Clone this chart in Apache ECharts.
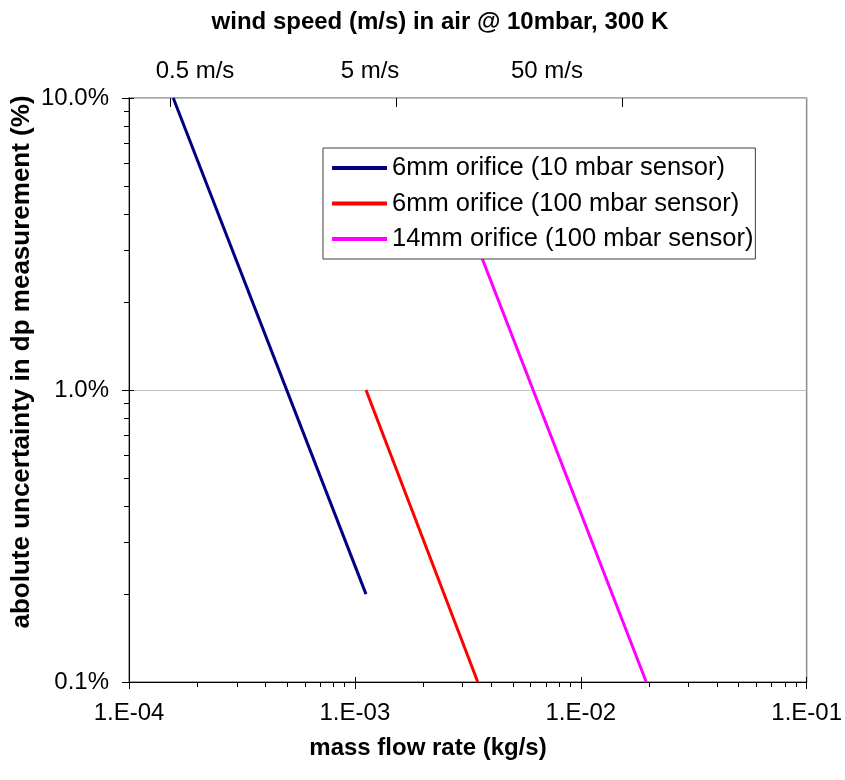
<!DOCTYPE html>
<html><head><meta charset="utf-8">
<script src="https://cdn.jsdelivr.net/npm/echarts@6/dist/echarts.min.js"></script>
<style>html,body{margin:0;padding:0;background:#fff}#c{width:845px;height:780px}</style>
</head><body><div id="c"></div>
<script>
// ---- data ----
const seriesNames = ['6mm orifice (10 mbar sensor)', '6mm orifice (100 mbar sensor)', '14mm orifice (100 mbar sensor)'];
const flow6mm10 = [1.57e-4, 1.12e-3];
const unc6mm10 = [10.0, 0.2];
const flow6mm100 = [1.12e-3, 3.5e-3];
const unc6mm100 = [1.0, 0.1];
const flow14mm100 = [3.55e-3, 1.95e-2];
const unc14mm100 = [3.0, 0.1];
const xTickLabels = ['1.E-04', '1.E-03', '1.E-02', '1.E-01'];
const yTickLabels = ['0.1%', '1.0%', '10.0%'];
const windLabels = ['0.5 m/s', '5 m/s', '50 m/s'];
const windTickFlow = [1.52e-4, 1.52e-3, 1.52e-2];

// ---- helpers ----
const FONT = '"Liberation Sans", Arial, sans-serif';
function minorVals(a, b) { const o = []; for (let d = a; d < b; d++) for (let m = 2; m <= 9; m++) o.push(d + Math.log10(m)); return o; }
function majorVals(a, b) { const o = []; for (let d = a; d <= b; d++) o.push(d); return o; }
function pairs(xs, ys) { return xs.map((x, i) => [x, ys[i]]); }
const hidden = { axisLine: { show: false, onZero: false }, axisLabel: { show: false }, splitLine: { show: false } };

const chart = echarts.init(document.getElementById('c'), null, { renderer: 'canvas' });
chart.setOption({
  backgroundColor: '#fff',
  animation: false,
  textStyle: { fontFamily: FONT },
  grid: { left: 129, right: 37, top: 98, bottom: 98, show: true, borderColor: '#8c8c8c', borderWidth: 1.5, backgroundColor: 'transparent' },
  xAxis: [
    { type: 'log', logBase: 10, min: 1e-4, max: 1e-1, position: 'bottom',
      axisLine: { show: true, onZero: false, lineStyle: { color: '#000', width: 1 } },
      axisTick: { show: true, length: 7, lineStyle: { color: '#000' } },
      axisLabel: { show: true, showMinLabel: true, showMaxLabel: true, margin: 19, fontSize: 24, color: '#000', fontFamily: FONT,
        formatter: v => xTickLabels[Math.round(Math.log10(v)) + 4] },
      splitLine: { show: false } },
    Object.assign({ type: 'value', min: -4, max: -1, position: 'bottom',
      axisTick: { show: true, customValues: minorVals(-4, -1), length: 5, lineStyle: { color: '#000' } } }, hidden),
    Object.assign({ type: 'value', min: -4, max: -1, position: 'bottom',
      axisTick: { show: true, inside: true, customValues: majorVals(-4, -1), length: 5, lineStyle: { color: '#000' } } }, hidden),
    Object.assign({ type: 'value', min: -4, max: -1, position: 'top',
      axisTick: { show: true, inside: true, customValues: windTickFlow.map(v => Math.log10(v)), length: 9, lineStyle: { color: '#000' } } }, hidden)
  ],
  yAxis: [
    { type: 'log', logBase: 10, min: 0.1, max: 10, position: 'left',
      axisLine: { show: true, onZero: false, lineStyle: { color: '#000', width: 1 } },
      axisTick: { show: true, length: 7, lineStyle: { color: '#000' } },
      axisLabel: { show: true, showMinLabel: true, showMaxLabel: true, margin: 20, fontSize: 24, color: '#000', fontFamily: FONT,
        formatter: v => yTickLabels[Math.round(Math.log10(v)) + 1] },
      splitLine: { show: true, lineStyle: { color: '#c0c0c0', width: 1 } } },
    Object.assign({ type: 'value', min: -1, max: 1, position: 'left',
      axisTick: { show: true, customValues: minorVals(-1, 1), length: 5, lineStyle: { color: '#000' } } }, hidden),
    Object.assign({ type: 'value', min: -1, max: 1, position: 'left',
      axisTick: { show: true, inside: true, customValues: majorVals(-1, 1), length: 5, lineStyle: { color: '#000' } } }, hidden)
  ],
  legend: {
    orient: 'vertical', left: 323, top: 148, z: 10,
    backgroundColor: '#fff', borderColor: '#404040', borderWidth: 1,
    padding: [7, 2, 7, 9], itemWidth: 55, itemHeight: 4, itemGap: 9.5, icon: 'rect',
    textStyle: { fontSize: 25.5, color: '#000', fontFamily: FONT },
    data: seriesNames
  },
  series: [
    { name: seriesNames[0], type: 'line', xAxisIndex: 0, yAxisIndex: 0, symbol: 'none', z: 3,
      lineStyle: { color: '#000080', width: 3 }, itemStyle: { color: '#000080' }, data: pairs(flow6mm10, unc6mm10) },
    { name: seriesNames[1], type: 'line', xAxisIndex: 0, yAxisIndex: 0, symbol: 'none', z: 3,
      lineStyle: { color: '#ff0000', width: 3 }, itemStyle: { color: '#ff0000' }, data: pairs(flow6mm100, unc6mm100) },
    { name: seriesNames[2], type: 'line', xAxisIndex: 0, yAxisIndex: 0, symbol: 'none', z: 3,
      lineStyle: { color: '#ff00ff', width: 3 }, itemStyle: { color: '#ff00ff' }, data: pairs(flow14mm100, unc14mm100) }
  ],
  graphic: [
    { type: 'text', x: 440, y: 22, style: { text: 'wind speed (m/s) in air @ 10mbar, 300 K', textAlign: 'center', textVerticalAlign: 'middle', font: 'bold 24px ' + FONT, fill: '#000' } },
    { type: 'text', x: 195, y: 71, style: { text: windLabels[0], textAlign: 'center', textVerticalAlign: 'middle', font: '24px ' + FONT, fill: '#000' } },
    { type: 'text', x: 370, y: 71, style: { text: windLabels[1], textAlign: 'center', textVerticalAlign: 'middle', font: '24px ' + FONT, fill: '#000' } },
    { type: 'text', x: 547, y: 71, style: { text: windLabels[2], textAlign: 'center', textVerticalAlign: 'middle', font: '24px ' + FONT, fill: '#000' } },
    { type: 'text', x: 428, y: 748, style: { text: 'mass flow rate (kg/s)', textAlign: 'center', textVerticalAlign: 'middle', font: 'bold 24px ' + FONT, fill: '#000' } },
    { type: 'text', x: 22, y: 362, rotation: Math.PI / 2, style: { text: 'abolute uncertainty in dp measurement (%)', textAlign: 'center', textVerticalAlign: 'middle', font: 'bold 26px ' + FONT, fill: '#000' } }
  ]
});
</script></body></html>
